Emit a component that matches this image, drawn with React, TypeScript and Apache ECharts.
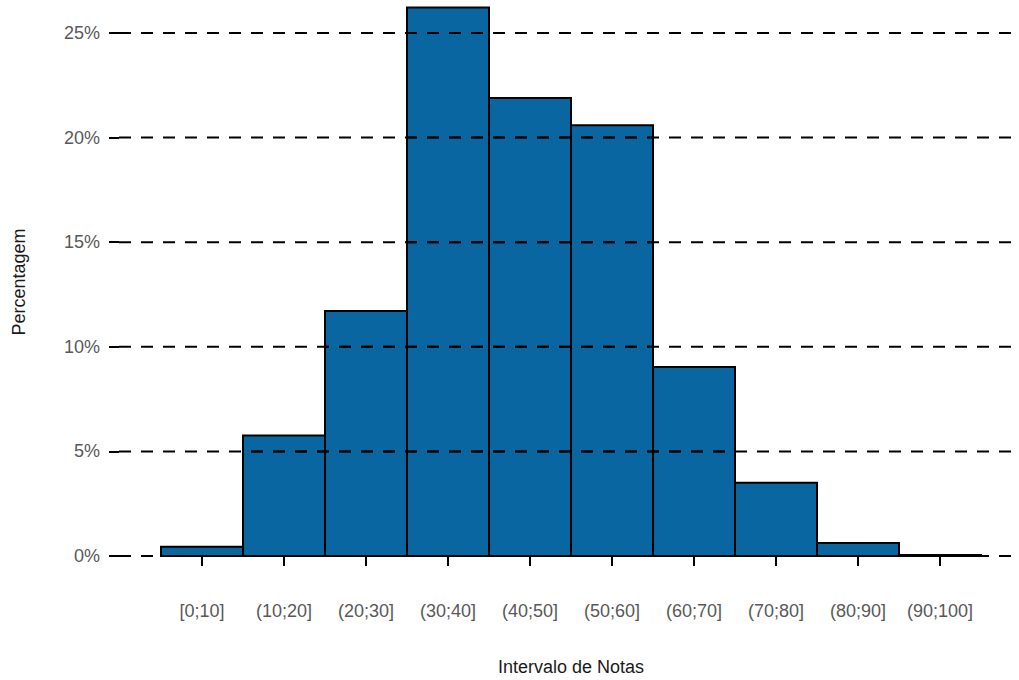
import React, { useEffect, useRef } from "react";
import * as echarts from "echarts";

const categories = ["[0;10]", "(10;20]", "(20;30]", "(30;40]", "(40;50]", "(50;60]", "(60;70]", "(70;80]", "(80;90]", "(90;100]"];
const percentages = [0.44, 5.76, 11.71, 26.22, 21.89, 20.59, 9.03, 3.5, 0.62, 0.05];
const yTickValues = [0, 5, 10, 15, 20, 25];
const xTitle = "Intervalo de Notas";
const yTitle = "Percentagem";

const FONT = "'Liberation Sans', Arial, sans-serif";
const GRID0_LEFT = 119;
const DASH = [12, 10];
const BAR_COLOR = "#0a66a0";

export default function App() {
  const ref = useRef<HTMLDivElement>(null);
  useEffect(() => {
    if (!ref.current) return;
    const chart = echarts.init(ref.current, null, { renderer: "svg" });
    const yMin = yTickValues[0];
    const yMax = yTickValues[yTickValues.length - 1];
    const yInterval = yTickValues[1] - yTickValues[0];
    const period = DASH[0] + DASH[1];

    const gridLineSeries = yTickValues.map((v) => ({
      type: "line",
      xAxisIndex: 0,
      yAxisIndex: 0,
      data: [[0, v], [1, v]],
      z: 20,
      silent: true,
      showSymbol: false,
      symbol: "none",
      clip: false,
      lineStyle: { color: "#000", width: 2, type: DASH },
    }));

    const renderBar = (params: any, api: any) => {
      const idx = api.value(0);
      const val = api.value(1);
      const base = api.coord([idx, 0]);
      const top = api.coord([idx, val]);
      const w = api.size([1, 0])[0];
      const x = base[0] - w / 2;
      const children: any[] = [
        {
          type: "rect",
          shape: { x, y: top[1], width: w, height: base[1] - top[1] },
          style: { fill: BAR_COLOR, stroke: "#000", lineWidth: 2 },
          z2: 1,
        },
      ];
      const phase = (((x - GRID0_LEFT) % period) + period) % period;
      yTickValues.forEach((t) => {
        if (t > 0 && t < val) {
          const y = api.coord([idx, t])[1];
          children.push({
            type: "line",
            shape: { x1: x, y1: y, x2: x + w, y2: y },
            style: { stroke: "#000", lineWidth: 2, lineDash: DASH, lineDashOffset: phase },
            z2: 5,
          });
        }
      });
      return { type: "group", children };
    };

    chart.setOption({
      animation: false,
      backgroundColor: "#ffffff",
      grid: [
        { left: GRID0_LEFT, right: 5, top: 33, bottom: 124 },
        { left: 161, right: 38, top: 33, bottom: 124 },
      ],
      xAxis: [
        { type: "value", gridIndex: 0, show: false, min: 0, max: 1 },
        {
          type: "category",
          gridIndex: 1,
          data: categories,
          offset: 27,
          boundaryGap: true,
          axisLine: { show: false },
          axisTick: { show: true, alignWithLabel: true, length: 10, lineStyle: { color: "#000", width: 2 } },
          axisLabel: { color: "#595959", fontSize: 18, fontFamily: FONT, margin: 19, interval: 0 },
          splitLine: { show: false },
        },
      ],
      yAxis: [
        {
          type: "value",
          gridIndex: 0,
          min: yMin,
          max: yMax,
          interval: yInterval,
          axisLine: { show: false },
          axisTick: { show: true, length: 10, lineStyle: { color: "#000", width: 2 } },
          axisLabel: { formatter: "{value}%", color: "#595959", fontSize: 18, fontFamily: FONT, margin: 19 },
          splitLine: { show: false },
        },
        { type: "value", gridIndex: 1, min: yMin, max: yMax, show: false },
      ],
      series: [
        ...gridLineSeries,
        {
          type: "custom",
          xAxisIndex: 1,
          yAxisIndex: 1,
          data: percentages.map((v, i) => [i, v]),
          encode: { x: 0, y: 1 },
          clip: false,
          silent: true,
          renderItem: renderBar,
        },
      ],
      graphic: [
        {
          type: "text",
          x: 18.5,
          y: 282,
          rotation: Math.PI / 2,
          style: { text: yTitle, fontSize: 18, fontFamily: FONT, fill: "#1a1a1a", align: "center", verticalAlign: "middle" },
        },
        {
          type: "text",
          x: 571,
          y: 667,
          style: { text: xTitle, fontSize: 18, fontFamily: FONT, fill: "#1a1a1a", align: "center", verticalAlign: "middle" },
        },
      ],
    });
    return () => chart.dispose();
  }, []);
  return <div ref={ref} style={{ position: "fixed", left: 0, top: 0, width: 1019, height: 680 }} />;
}
